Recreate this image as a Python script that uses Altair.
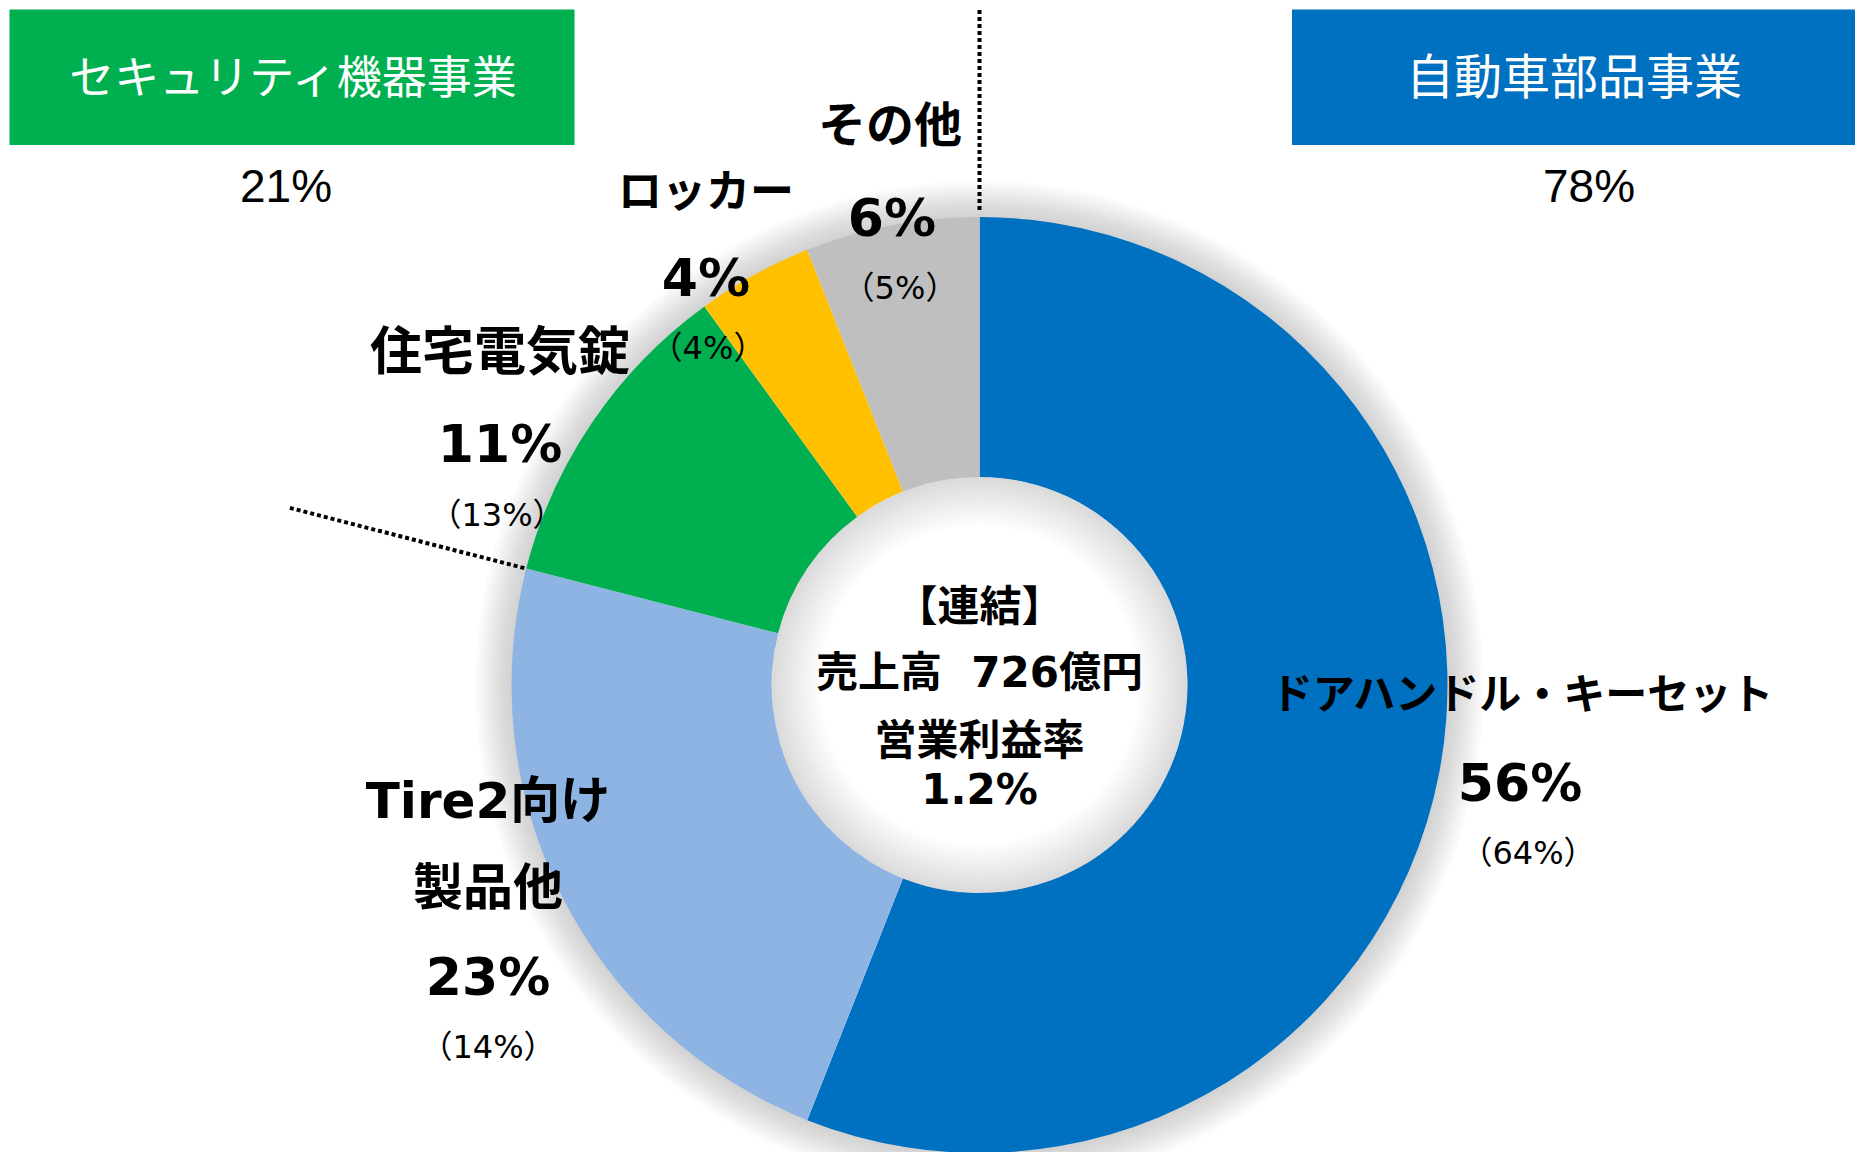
import altair as alt
import pandas as pd
import numpy as np

# ---------------- data ----------------
segments = ["ドアハンドル・キーセット", "Tire2向け製品他", "住宅電気錠", "ロッカー", "その他"]
shares = [56, 23, 11, 4, 6]            # current share (%)
prev_shares = [64, 14, 13, 4, 5]       # share in brackets (%)
business = ["セキュリティ機器事業", "自動車部品事業"]
business_share = [21, 78]
center_lines = ["【連結】", "売上高\u00a0\u00a0726億円", "営業利益率", "1.2%"]

# ---------------- styles / layout ----------------
seg_colors = ["#0070C0", "#8EB4E3", "#00B050", "#FFC000", "#BFBFBF"]
box_colors = ["#00B050", "#0070C0"]
W, H = 1849, 1144
CX, CY = 971.5, 677
R_OUT, R_IN = 468, 208
JP = "Noto Sans CJK JP"
NUM = "DejaVu Sans, Noto Sans CJK JP"

df = pd.DataFrame({"segment": segments, "share": shares, "prev": prev_shares,
                   "order": list(range(len(segments)))})
one = pd.DataFrame({"k": [0]})

layers = []

# soft outer shadow
for i in range(1, 13):
    layers.append(
        alt.Chart(one).mark_arc(innerRadius=R_OUT - 1, outerRadius=R_OUT + 3 * i,
                                theta=0, theta2=2 * np.pi, color="#808080", opacity=0.03)
        .encode(x=alt.value(CX), y=alt.value(CY))
    )

# donut
layers.append(
    alt.Chart(df).mark_arc(innerRadius=R_IN, outerRadius=R_OUT).encode(
        theta=alt.Theta("share:Q", stack=True),
        order=alt.Order("order:Q"),
        color=alt.Color("segment:N", scale=alt.Scale(domain=segments, range=seg_colors), legend=None),
        x=alt.value(CX), y=alt.value(CY),
    )
)

# inner shadow in the hole
for i in range(1, 13):
    layers.append(
        alt.Chart(one).mark_arc(innerRadius=R_IN - 4 * i, outerRadius=R_IN,
                                theta=0, theta2=2 * np.pi, color="#808080", opacity=0.024)
        .encode(x=alt.value(CX), y=alt.value(CY))
    )

# business header boxes
boxes = [(1.5, 566.5), (1284, 1847)]
for (x0, x1), col in zip(boxes, box_colors):
    layers.append(
        alt.Chart(one).mark_rect(color=col).encode(
            x=alt.value(x0), x2=alt.value(x1), y=alt.value(1.5), y2=alt.value(137))
    )


def txt(text, x, y, size, weight="normal", font=JP, color="black"):
    return alt.Chart(one).mark_text(text=text, fontSize=size, fontWeight=weight, font=font,
                                    color=color, align="center", baseline="middle").encode(
        x=alt.value(x), y=alt.value(y))


# header texts
hdr_pos = [(285, 72), (1566, 72)]
hdr_size = [45, 48]
pct_pos = [(278, 180), (1581, 180)]
for name, val, (hx, hy), hs, (px, py) in zip(business, business_share, hdr_pos, hdr_size, pct_pos):
    layers.append(txt(name, hx, hy, hs, "normal", JP, "white"))
    layers.append(txt(f"{val}%", px, py, 46, "normal", "Liberation Sans, Arial", "black"))

# dotted separators
theta_b = 2 * np.pi * (shares[0] + shares[1]) / sum(shares)
r_far = 712
layers.append(
    alt.Chart(one).mark_rule(color="black", strokeWidth=4, strokeDash=[4, 3]).encode(
        x=alt.value(CX), x2=alt.value(CX), y=alt.value(2), y2=alt.value(CY - R_OUT - 4))
)
layers.append(
    alt.Chart(one).mark_rule(color="black", strokeWidth=4, strokeDash=[4, 3]).encode(
        x=alt.value(CX + r_far * np.sin(theta_b)), y=alt.value(CY - r_far * np.cos(theta_b)),
        x2=alt.value(CX + R_OUT * np.sin(theta_b)), y2=alt.value(CY - R_OUT * np.cos(theta_b)))
)

# segment labels
label_layout = {
    "ドアハンドル・キーセット": dict(lines=[("ドアハンドル・キーセット", 1514, 688, 42)], pct=(1512, 777), prev=(1520, 846)),
    "Tire2向け製品他": dict(lines=[("Tire2向け", 480, 795, 50), ("製品他", 480, 882, 50)], pct=(480, 971), prev=(480, 1040)),
    "住宅電気錠": dict(lines=[("住宅電気錠", 492, 346, 52)], pct=(492, 438), prev=(489, 508)),
    "ロッカー": dict(lines=[("ロッカー", 698, 186, 44)], pct=(698, 272), prev=(700, 341)),
    "その他": dict(lines=[("その他", 882, 120, 48)], pct=(884, 212), prev=(892, 281)),
}
for seg, s, p in zip(segments, shares, prev_shares):
    lay = label_layout[seg]
    for t, x, y, sz in lay["lines"]:
        layers.append(txt(t, x, y, sz, "bold", NUM))
    layers.append(txt(f"{s}%", lay["pct"][0], lay["pct"][1], 52, "bold", NUM))
    layers.append(txt(f"（{p}%）", lay["prev"][0], lay["prev"][1], 32, "normal", NUM))

# center text
center_y = [600, 666, 734, 783]
for t, y in zip(center_lines, center_y):
    layers.append(txt(t, CX, y, 42, "bold", NUM))

chart = alt.layer(*layers).properties(
    width=W, height=H, padding=0, background="white",
    autosize=alt.AutoSizeParams(type="none"),
).configure_view(stroke=None)

chart.save("out.html", embed_options={"renderer": "svg", "actions": False})
